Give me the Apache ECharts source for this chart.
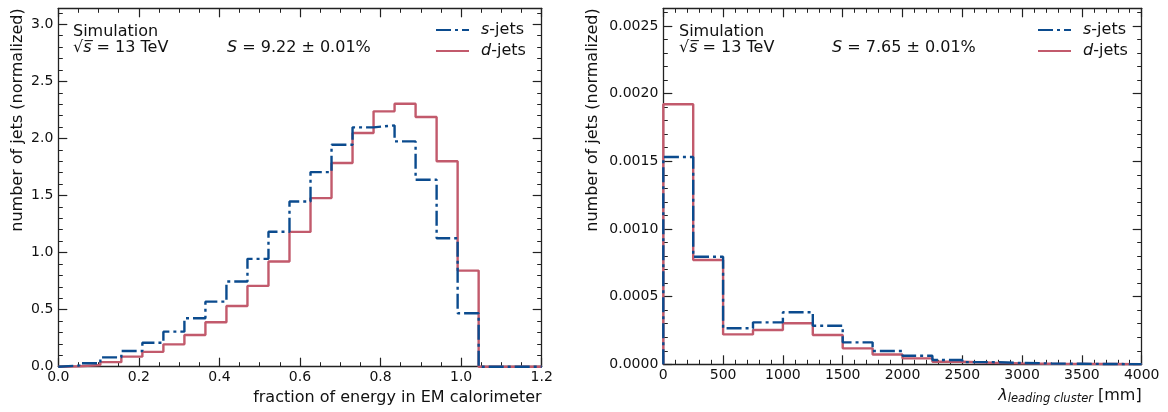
<!DOCTYPE html>
<html><head><meta charset="utf-8">
<script src="https://cdn.jsdelivr.net/npm/echarts@6/dist/echarts.min.js"></script>
<style>html,body{margin:0;padding:0;background:#fff}#c{width:1168px;height:412px}</style>
</head><body><div id="c"></div>
<script>
// ---------- Left panel: fraction of energy in EM calorimeter (23 equal bins on [0, 1.2]) ----------
const emRange = [0, 1.2];
const emBinCount = 23;
const emSJets = [0.010, 0.030, 0.082, 0.138, 0.210, 0.307, 0.424, 0.570, 0.746, 0.945, 1.182, 1.447, 1.705, 1.945, 2.097, 2.114, 1.974, 1.638, 1.126, 0.468, 0, 0, 0];
const emDJets = [0.004, 0.015, 0.040, 0.088, 0.130, 0.196, 0.278, 0.390, 0.532, 0.708, 0.922, 1.181, 1.477, 1.784, 2.047, 2.237, 2.304, 2.188, 1.800, 0.842, 0, 0, 0];
const emYMax = 3.14;
const emXTicks = [0, 0.2, 0.4, 0.6, 0.8, 1.0, 1.2];
const emYTicks = [0, 0.5, 1.0, 1.5, 2.0, 2.5, 3.0];
const emXMinorStep = 0.05, emYMinorStep = 0.1;

// ---------- Right panel: lambda leading cluster (16 bins of 250 mm on [0, 4000]) ----------
const lamRange = [0, 4000];
const lamBinCount = 16;
const lamSJets = [0.001532, 0.000794, 0.000266, 0.000310, 0.000384, 0.000285, 0.000162, 0.000098, 0.000063, 0.000032, 0.000016, 0.000010, 0.000006, 0.000004, 0.000002, 0.000001];
const lamDJets = [0.001921, 0.000770, 0.000221, 0.000253, 0.000303, 0.000216, 0.000118, 0.000072, 0.000044, 0.000019, 0.000011, 0.000007, 0.000004, 0.000003, 0.000002, 0.000001];
const lamYMax = 0.00263;
const lamXTicks = [0, 500, 1000, 1500, 2000, 2500, 3000, 3500, 4000];
const lamYTicks = [0, 0.0005, 0.0010, 0.0015, 0.0020, 0.0025];
const lamXMinorStep = 100, lamYMinorStep = 0.0001;

const seriesNames = ['s-jets', 'd-jets'];
const BLUE = '#0b4b8e', RED = '#c25a6c';
const FONT = 'DejaVu Sans';

function edges(range, n) {
  const e = [];
  for (let i = 0; i <= n; i++) e.push(range[0] + (range[1] - range[0]) * i / n);
  return e;
}
function histPoints(range, values) {
  const e = edges(range, values.length);
  const pts = [[e[0], 0]];
  values.forEach((v, i) => pts.push([e[i], v]));
  pts.push([e[values.length], values[values.length - 1]]);
  pts.push([e[values.length], 0]);
  return pts;
}
function minorTicks(range, step, majors) {
  const out = [];
  const n = Math.floor((range[1] - range[0]) / step + 1e-6);
  for (let i = 0; i <= n; i++) {
    const v = +(range[0] + i * step).toFixed(8);
    if (!majors.some(m => Math.abs(m - v) < step * 1e-3)) out.push(v);
  }
  return out;
}

const axisLineStyle = { show: true, onZero: false, lineStyle: { color: '#222', width: 1.3 } };
const labelStyle = { color: '#111', fontSize: 14, fontFamily: FONT };

function axisSet(gridIndex, xr, yr, xMaj, yMaj, xMin, yMin, xFmt, yFmt) {
  const xs = [], ys = [];
  const base = (range) => ({ type: 'value', gridIndex, min: range[0], max: range[1], splitLine: { show: false }, animation: false });
  xs.push(Object.assign(base(xr), { position: 'bottom', axisLine: axisLineStyle,
    axisTick: { show: true, inside: true, length: 9, customValues: xMaj, lineStyle: { color: '#222', width: 1.2 } },
    axisLabel: Object.assign({ show: true, margin: 4, customValues: xMaj, formatter: xFmt }, labelStyle) }));
  xs.push(Object.assign(base(xr), { position: 'top', axisLine: axisLineStyle,
    axisTick: { show: true, inside: true, length: 9, customValues: xMaj, lineStyle: { color: '#222', width: 1.2 } },
    axisLabel: { show: false } }));
  ys.push(Object.assign(base(yr), { position: 'left', axisLine: axisLineStyle,
    axisTick: { show: true, inside: true, length: 9, customValues: yMaj, lineStyle: { color: '#222', width: 1.2 } },
    axisLabel: Object.assign({ show: true, margin: 5, customValues: yMaj, formatter: yFmt }, labelStyle) }));
  ys.push(Object.assign(base(yr), { position: 'right', axisLine: axisLineStyle,
    axisTick: { show: true, inside: true, length: 9, customValues: yMaj, lineStyle: { color: '#222', width: 1.2 } },
    axisLabel: { show: false } }));
  const g2 = gridIndex + 1;
  const mk = (range, pos, vals) => ({ type: 'value', gridIndex: g2, min: range[0], max: range[1], position: pos,
    splitLine: { show: false }, axisLine: { show: false, onZero: false },
    axisTick: { show: true, inside: true, length: 4.5, customValues: vals, lineStyle: { color: '#222', width: 1 } },
    axisLabel: { show: false } });
  xs.push(mk(xr, 'bottom', xMin)); xs.push(mk(xr, 'top', xMin));
  ys.push(mk(yr, 'left', yMin)); ys.push(mk(yr, 'right', yMin));
  return { xs, ys };
}

const leftAxes = axisSet(0, emRange, [0, emYMax], emXTicks, emYTicks,
  minorTicks(emRange, emXMinorStep, emXTicks), minorTicks([0, emYMax], emYMinorStep, emYTicks),
  v => v.toFixed(1), v => v.toFixed(1));
const rightAxes = axisSet(2, lamRange, [0, lamYMax], lamXTicks, lamYTicks,
  minorTicks(lamRange, lamXMinorStep, lamXTicks), minorTicks([0, lamYMax], lamYMinorStep, lamYTicks),
  v => String(Math.round(v)), v => v.toFixed(4));

const leftGrid = { left: 58.3, top: 8.3, width: 483.4, height: 358.4 };
const rightGrid = { left: 663.3, top: 8.3, width: 478.4, height: 356 };

function histSeries(name, xi, data, color, dashed) {
  return { name, type: 'line', xAxisIndex: xi, yAxisIndex: xi, data, step: 'end', symbol: 'none', showSymbol: false,
    clip: false, animation: false, z: dashed ? 4 : 3,
    lineStyle: { color, width: 2.4, type: dashed ? [15, 4, 3, 4] : 'solid', cap: 'butt' },
    itemStyle: { color, opacity: 0 } };
}

const legendRich = { it: { fontStyle: 'italic', fontSize: 16, fontFamily: FONT, color: '#111' }, n: { fontSize: 16, fontFamily: FONT, color: '#111' } };
function legendAt(left) {
  return { data: seriesNames, orient: 'vertical', left, top: 22, padding: 0, itemWidth: 33, itemHeight: 16, itemGap: 5,
    selectedMode: false,
    itemStyle: { opacity: 0 },
    formatter: n => '{it|' + n.charAt(0) + '}{n|' + n.slice(1) + '}',
    textStyle: { fontSize: 16, fontFamily: FONT, color: '#111', padding: [0, 0, 0, 7], rich: legendRich } };
}

const txt = (x, y, text, extra) => Object.assign({ type: 'text', x, y, silent: true,
  style: Object.assign({ text, fill: '#111', fontSize: 16, fontFamily: FONT, align: 'left', verticalAlign: 'middle',
    textAlign: 'left', textVerticalAlign: 'middle' }, extra || {}) });
const mathRich = {
  i: { fontStyle: 'italic', fontSize: 16, fontFamily: FONT, color: '#111' },
  n: { fontSize: 16, fontFamily: FONT, color: '#111' },
  sub: { fontStyle: 'italic', fontSize: 11.5, fontFamily: FONT, color: '#111', verticalAlign: 'bottom', padding: [6, 0, 0, 0] }
};

const option = {
  backgroundColor: '#fff',
  animation: false,
  grid: [leftGrid, leftGrid, rightGrid, rightGrid],
  xAxis: leftAxes.xs.concat(rightAxes.xs),
  yAxis: leftAxes.ys.concat(rightAxes.ys),
  legend: [legendAt(435), legendAt(1037)],
  series: [
    histSeries('d-jets', 0, histPoints(emRange, emDJets), RED, false),
    histSeries('s-jets', 0, histPoints(emRange, emSJets), BLUE, true),
    histSeries('d-jets', 4, histPoints(lamRange, lamDJets), RED, false),
    histSeries('s-jets', 4, histPoints(lamRange, lamSJets), BLUE, true)
  ],
  graphic: [
    txt(73, 31.5, 'Simulation'),
    txt(73, 47.5, '{n|\u221A}{i|s\u0305}{n| = 13 TeV}', { rich: mathRich }),
    txt(227, 48, '{i|S}{n| = 9.22 \u00B1 0.01%}', { rich: mathRich }),
    txt(679, 31.5, 'Simulation'),
    txt(679, 47.5, '{n|\u221A}{i|s\u0305}{n| = 13 TeV}', { rich: mathRich }),
    txt(832, 48, '{i|S}{n| = 7.65 \u00B1 0.01%}', { rich: mathRich }),
    txt(541.7, 397.5, 'fraction of energy in EM calorimeter', { align: 'right', textAlign: 'right' }),
    txt(1141.7, 396, '{i|\u03BB}{sub|leading cluster}{n| [mm]}', { align: 'right', textAlign: 'right', rich: mathRich }),
    Object.assign(txt(18, 8.3, 'number of jets (normalized)', { align: 'right', textAlign: 'right' }), { rotation: Math.PI / 2 }),
    Object.assign(txt(592.5, 8.3, 'number of jets (normalized)', { align: 'right', textAlign: 'right' }), { rotation: Math.PI / 2 })
  ]
};

const chart = echarts.init(document.getElementById('c'), null, { renderer: 'canvas' });
chart.setOption(option);
</script>
</body></html>
